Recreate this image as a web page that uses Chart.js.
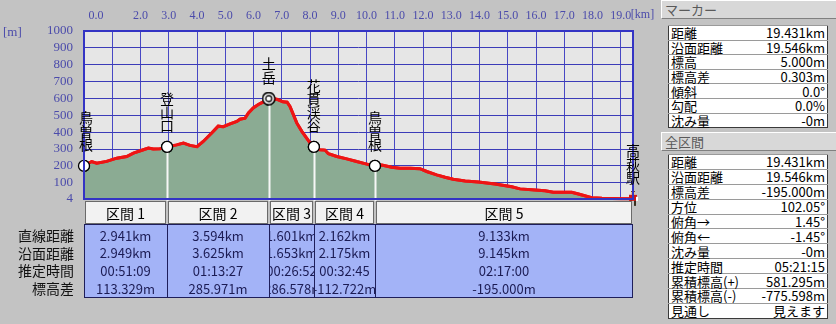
<!DOCTYPE html>
<html>
<head>
<meta charset="utf-8">
<script src="https://cdn.jsdelivr.net/npm/chart.js@4"></script>
<style>
  body { margin: 0; background: #c3c3c3; font-family: "Noto Sans CJK JP", sans-serif; }
  #wrap { position: relative; width: 836px; height: 324px; overflow: hidden; }
  #profile { position: absolute; left: 0; top: 0; }
  .hdr { position: absolute; left: 661px; width: 171px; height: 17px; background: #d8d8d8;
         border-top: 1px solid #fff; border-left: 1px solid #fff; border-right: 1px solid #808080; border-bottom: 1px solid #808080;
         font-size: 13px; line-height: 17px; color: #5a5a5a; padding-left: 3px; box-sizing: content-box; }
  .info { position: absolute; left: 668px; width: 160px; border-collapse: collapse; background: #fff;
          border: 1px solid #3a3a3a; font-size: 13px; color: #000; }
  .info td { padding: 0 2px; border-top: 1px solid #9a9a9a; line-height: 13px; white-space: nowrap; }
  .info td.v { text-align: right; }
</style>
</head>
<body>
<div id="wrap">
  <canvas id="profile" width="660" height="324"></canvas>
  <div class="hdr" style="top:0px">マーカー</div>
  <table class="info" id="markerTbl" style="top:25px"></table>
  <div class="hdr" style="top:132px">全区間</div>
  <table class="info" id="totalTbl" style="top:154px"></table>
</div>
<script>
// profile: horizontal distance [km] / elevation [m]
const distKm = [0, 0.27, 0.45, 0.80, 1.16, 1.51, 1.75, 2.10, 2.28, 2.45,
  2.69, 2.941, 3.28, 3.52, 3.75, 4.00, 4.22, 4.52, 4.75, 4.93,
  5.17, 5.41, 5.52, 5.70, 5.82, 5.99, 6.17, 6.35, 6.535, 6.82,
  6.94, 7.04, 7.19, 7.29, 7.41, 7.53, 7.71, 7.88, 8.00, 8.136,
  8.35, 8.53, 8.65, 8.95, 9.30, 9.65, 10.01, 10.298, 10.54, 10.89,
  11.19, 11.54, 11.89, 12.13, 12.48, 12.78, 13.07, 13.49, 13.96, 14.55,
  15.14, 15.43, 15.96, 16.32, 16.61, 16.91, 17.26, 17.50, 17.97, 18.33,
  19.03, 19.431];
const elevM = [200, 226, 216, 227, 246, 256, 276, 296, 306, 300,
  302, 313, 325, 336, 322, 314, 345, 395, 436, 433,
  449, 464, 477, 483, 514, 544, 564, 580, 599, 596,
  587, 580, 578, 553, 504, 455, 405, 365, 337, 313,
  296, 294, 272, 256, 242, 226, 211, 200, 206, 192,
  186, 186, 184, 167, 147, 133, 121, 111, 105, 93,
  77, 64, 58, 53, 44, 44, 44, 34, 12, 8,
  6, 5];

const yTicks = [4, 100, 200, 300, 400, 500, 600, 700, 800, 900, 1000];
const xTicks = [0, 1, 2, 3, 4, 5, 6, 7, 8, 9, 10, 11, 12, 13, 14, 15, 16, 17, 18, 19];

// waypoints and sections
const wpNames = ['鳥曽根', '登山口', '土岳', '花貫渓谷', '鳥曽根', '高萩駅'];
const startElev = 200;
const sectionNames = ['区間 1', '区間 2', '区間 3', '区間 4', '区間 5'];
const sectionKm = [2.941, 3.594, 1.601, 2.162, 9.133];
const sectionRise = [113.329, 285.971, -286.578, -112.722, -195.000];
const rowLabels = ['直線距離', '沿面距離', '推定時間', '標高差'];
const straightDist = ['2.941km', '3.594km', '1.601km', '2.162km', '9.133km'];
const surfaceDist = ['2.949km', '3.625km', '1.653km', '2.175km', '9.145km'];
const estTime = ['00:51:09', '01:13:27', '00:26:52', '00:32:45', '02:17:00'];
const elevDiff = ['113.329m', '285.971m', '-286.578m', '-112.722m', '-195.000m'];

// side panel
const markerLabels = ['距離', '沿面距離', '標高', '標高差', '傾斜', '勾配', '沈み量'];
const markerValues = ['19.431km', '19.546km', '5.000m', '0.303m', '0.0°', '0.0%', '-0m'];
const totalLabels = ['距離', '沿面距離', '標高差', '方位', '俯角→', '俯角←', '沈み量', '推定時間', '累積標高(+)', '累積標高(-)', '見通し'];
const totalValues = ['19.431km', '19.546km', '-195.000m', '102.05°', '1.45°', '-1.45°', '-0m', '05:21:15', '581.295m', '-775.598m', '見えます'];

function fillTable(id, labels, values, rowH) {
  const t = document.getElementById(id);
  labels.forEach((l, i) => {
    const tr = document.createElement('tr');
    tr.style.height = rowH + 'px';
    tr.innerHTML = '<td>' + l + '</td><td class="v">' + values[i] + '</td>';
    t.appendChild(tr);
  });
}
fillTable('markerTbl', markerLabels, markerValues, 14.6);
fillTable('totalTbl', totalLabels, totalValues, 14.9);

// waypoint positions from the section table
const wpDist = [0];
const wpElev = [startElev];
sectionKm.forEach((k, i) => {
  wpDist.push(wpDist[i] + k);
  wpElev.push(wpElev[i] + sectionRise[i]);
});

// marker icons
function summitIcon() {
  const c = document.createElement('canvas');
  c.width = 14; c.height = 14;
  const g = c.getContext('2d');
  g.fillStyle = '#fff'; g.strokeStyle = '#000'; g.lineWidth = 1.3;
  g.beginPath(); g.arc(7, 7, 6, 0, Math.PI * 2); g.fill(); g.stroke();
  g.beginPath(); g.arc(7, 7, 3, 0, Math.PI * 2); g.stroke();
  return c;
}
function hikerIcon() {
  const c = document.createElement('canvas');
  c.width = 12; c.height = 16;
  const g = c.getContext('2d');
  g.fillStyle = '#e8c090'; g.fillRect(4, 0, 4, 4);
  g.fillStyle = '#6a3010'; g.fillRect(4, 0, 4, 1);
  g.fillStyle = '#d01818'; g.fillRect(2, 4, 8, 6);
  g.fillStyle = '#3a3020'; g.fillRect(3, 10, 2, 5); g.fillRect(7, 10, 2, 5);
  g.fillStyle = '#ffffff'; g.fillRect(9, 6, 2, 4);
  return c;
}
const wpStyles = wpNames.map((n, i) => i === 2 ? summitIcon() : (i === wpNames.length - 1 ? hikerIcon() : 'circle'));

const yFont = { family: "'Liberation Serif', serif", size: 13 };
const xFont = { family: "'Liberation Serif', serif", size: 12 };
const blue = '#3b3bb8';

const overlay = {
  id: 'overlay',
  beforeDraw(chart) {
    const { ctx, chartArea: a } = chart;
    ctx.save();
    ctx.fillStyle = '#e6e6e6';
    ctx.fillRect(a.left, a.top, a.right - a.left, a.bottom - a.top);
    ctx.restore();
  },
  afterDraw(chart) {
    const { ctx, chartArea: a, scales: { x, y } } = chart;
    ctx.save();
    // stems under waypoints
    ctx.strokeStyle = '#f6f6f6';
    ctx.lineWidth = 2;
    wpDist.forEach((d, i) => {
      if (i === 0 || i === wpDist.length - 1) return;
      const px = Math.round(x.getPixelForValue(d)) + 0.5;
      ctx.beginPath();
      ctx.moveTo(px, y.getPixelForValue(wpElev[i]));
      ctx.lineTo(px, a.bottom + 2);
      ctx.stroke();
    });
    // line and markers back on top of the grid
    chart.getDatasetMeta(0).controller.draw();
    chart.getDatasetMeta(1).controller.draw();

    // plot frame
    ctx.strokeStyle = '#3434c4';
    ctx.lineWidth = 2;
    ctx.strokeRect(a.left, a.top, a.right - a.left, a.bottom - a.top);

    // unit labels
    ctx.fillStyle = '#4b4bab';
    ctx.textBaseline = 'middle';
    ctx.textAlign = 'left';
    ctx.font = "13px 'Liberation Serif', serif";
    ctx.fillText('[m]', 3, 33);
    ctx.font = "12px 'Liberation Serif', serif";
    ctx.fillText('[km]', x.getPixelForValue(19) + 10, 15);

    // vertical waypoint names
    ctx.fillStyle = '#000';
    ctx.font = "14px 'Noto Sans CJK JP'";
    ctx.textAlign = 'center';
    wpNames.forEach((n, i) => {
      const px = Math.max(x.getPixelForValue(wpDist[i]), a.left + 2);
      const py = y.getPixelForValue(wpElev[i]);
      const chars = [...n];
      chars.forEach((ch, j) => {
        ctx.fillText(ch, px, py - 21 - (chars.length - 1 - j) * 13.5);
      });
    });

    // section table
    const cols = wpDist.map(d => Math.round(x.getPixelForValue(d)));
    const hTop = a.bottom + 2, hBot = hTop + 23, bBot = 298;
    ctx.font = "14px 'Noto Sans CJK JP'";
    sectionNames.forEach((s, i) => {
      const l = cols[i] + 1, r = cols[i + 1] - 1;
      ctx.fillStyle = '#f2f2f2';
      ctx.fillRect(l, hTop, r - l, hBot - hTop);
      ctx.strokeStyle = '#6a6a6a';
      ctx.lineWidth = 1;
      ctx.strokeRect(l + 0.5, hTop + 0.5, r - l - 1, hBot - hTop - 1);
      ctx.fillStyle = '#000';
      ctx.fillText(s, (l + r) / 2, (hTop + hBot) / 2 + 1);
    });
    ctx.fillStyle = '#a3b3f7';
    ctx.fillRect(cols[0], hBot, cols[cols.length - 1] - cols[0], bBot - hBot);
    ctx.strokeStyle = '#1e1e5a';
    ctx.lineWidth = 1;
    ctx.strokeRect(cols[0] + 0.5, hBot + 0.5, cols[cols.length - 1] - cols[0] - 1, bBot - hBot - 1);
    for (let i = 1; i < cols.length - 1; i++) {
      ctx.beginPath();
      ctx.moveTo(cols[i] + 0.5, hBot);
      ctx.lineTo(cols[i] + 0.5, bBot);
      ctx.stroke();
    }
    const rows = [straightDist, surfaceDist, estTime, elevDiff];
    const rowY = [236, 253.5, 271, 289];
    ctx.font = "13px 'Noto Sans CJK JP'";
    rows.forEach((vals, r) => {
      vals.forEach((v, i) => {
        ctx.save();
        ctx.beginPath();
        ctx.rect(cols[i] + 1, hBot, cols[i + 1] - cols[i] - 1, bBot - hBot);
        ctx.clip();
        ctx.fillStyle = '#1c1c54';
        ctx.fillText(v, (cols[i] + cols[i + 1]) / 2, rowY[r]);
        ctx.restore();
      });
    });
    ctx.fillStyle = '#111';
    ctx.textAlign = 'right';
    ctx.font = "14px 'Noto Sans CJK JP'";
    rowLabels.forEach((l, r) => ctx.fillText(l, 74, rowY[r]));
    ctx.restore();
  }
};

new Chart(document.getElementById('profile'), {
  type: 'line',
  data: {
    datasets: [{
      data: distKm.map((d, i) => ({ x: d, y: elevM[i] })),
      borderColor: '#ee1414',
      borderWidth: 3,
      backgroundColor: '#8bab93',
      fill: 'start',
      pointRadius: 0,
      tension: 0,
      order: 1
    }, {
      type: 'scatter',
      data: wpDist.map((d, i) => ({ x: d, y: wpElev[i] })),
      pointStyle: wpStyles,
      pointRadius: 5.5,
      pointBackgroundColor: '#ffffff',
      pointBorderColor: '#000000',
      pointBorderWidth: 1.3,
      order: 0
    }]
  },
  options: {
    responsive: false,
    animation: false,
    events: [],
    layout: { padding: { left: 0, right: 27, top: 0, bottom: 125 } },
    plugins: { legend: { display: false }, tooltip: { enabled: false } },
    scales: {
      x: {
        type: 'linear',
        position: 'top',
        min: 0,
        max: 19.431,
        z: 1,
        afterBuildTicks: s => { s.ticks = xTicks.map(v => ({ value: v })); },
        afterFit: s => { s.height = 31; },
        border: { display: false },
        grid: { color: '#4848c4', borderDash: [1, 2], drawTicks: false, lineWidth: 1 },
        ticks: {
          autoSkip: false,
          maxRotation: 0,
          padding: 8,
          color: '#4b4bab',
          font: xFont,
          callback: v => v === 1 ? '' : (v === 0 ? '        0.0' : v.toFixed(1))
        }
      },
      y: {
        min: 4,
        max: 1000,
        z: 1,
        afterBuildTicks: s => { s.ticks = yTicks.map(v => ({ value: v })); },
        afterFit: s => { s.width = 84; },
        border: { display: false },
        grid: { color: blue, drawTicks: false, lineWidth: 1 },
        ticks: { autoSkip: false, padding: 11, color: '#4b4bab', font: yFont, callback: v => String(v) }
      }
    }
  },
  plugins: [overlay]
});
</script>
</body>
</html>
